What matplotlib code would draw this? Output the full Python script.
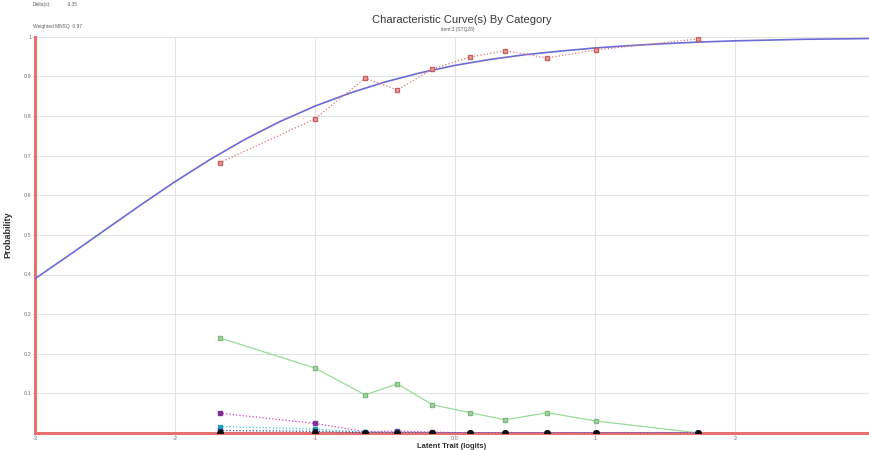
import matplotlib
matplotlib.use("Agg")
import matplotlib.pyplot as plt
import numpy as np

plt.rcParams["font.family"] = ["Liberation Sans", "DejaVu Sans"]

# model curve, every 0.25 logit
curve_x = [-3, -2.75, -2.5, -2.25, -2, -1.75, -1.5, -1.25, -1, -0.75, -0.5, -0.25, 0,
           0.25, 0.5, 0.75, 1, 1.25, 1.5, 1.75, 2, 2.25, 2.5, 2.75, 3]
curve_p = [0.389, 0.450, 0.512, 0.574, 0.634, 0.690, 0.741, 0.786, 0.825, 0.858, 0.886,
           0.909, 0.928, 0.943, 0.955, 0.964, 0.972, 0.978, 0.983, 0.987, 0.990, 0.992,
           0.994, 0.995, 0.996]

# observed groups
obs_x = [-1.68, -1.0, -0.64, -0.41, -0.16, 0.11, 0.36, 0.66, 1.01, 1.74]
cat_top = [0.682, 0.793, 0.896, 0.866, 0.919, 0.949, 0.965, 0.947, 0.967, 0.995]
cat_green = [0.240, 0.164, 0.096, 0.124, 0.071, 0.051, 0.033, 0.051, 0.030, 0.0]
cat_magenta = [0.050, 0.024, 0.003, 0.005, 0.002, 0.0, 0.0, 0.0, 0.0, 0.0]
cat_cyan = [0.016, 0.010, 0.002, 0.002, 0.001, 0.0, 0.0, 0.0, 0.0, 0.0]
cat_navy = [0.006, 0.004, 0.001, 0.001, 0.0, 0.0, 0.0, 0.0, 0.0, 0.0]
cat_zero = [0.0, 0.0, 0.0, 0.0, 0.0, 0.0, 0.0, 0.0, 0.0, 0.0]

x_ticks = [-3, -2, -1, 0, 1, 2]
x_labels = ["-3", "-2", "-1", "0.0", "1", "2"]
y_ticks = [0.1, 0.2, 0.3, 0.4, 0.5, 0.6, 0.7, 0.8, 0.9, 1.0]
y_labels = ["0.1", "0.2", "0.3", "0.4", "0.5", "0.6", "0.7", "0.8", "0.9", "1"]

fig = plt.figure(figsize=(8.7, 4.5), dpi=100)
ax = fig.add_axes([0.040, 0.038, 0.959, 0.880])

ax.plot(curve_x, curve_p, color="#6b6bd6", lw=1.2, zorder=4)
ax.plot(obs_x, cat_top, color="#e07878", lw=0.9, ls=":", marker="s", ms=3.5,
        mfc="#e8a0a0", mec="#c86060", zorder=5)
ax.plot(obs_x, cat_green, color="#98dc98", lw=0.9, ls="-", marker="s", ms=3,
        mfc="#a8d8a8", mec="#80b880", zorder=3)
ax.plot(obs_x, cat_magenta, color="#d040c0", lw=0.9, ls=":", marker="s", ms=3,
        mfc="#803090", mec="#803090", zorder=3)
ax.plot(obs_x, cat_cyan, color="#40c8e0", lw=0.9, ls=":", marker="s", ms=3.5,
        mfc="#20a0c0", mec="#20a0c0", zorder=3)
ax.plot(obs_x, cat_navy, color="#3050a0", lw=0.9, ls=":", marker="s", ms=3,
        mfc="#203060", mec="#203060", zorder=3)
ax.plot(obs_x, cat_zero, color="#c04060", lw=0.9, ls=":", marker="o", ms=4,
        mfc="#101010", mec="#101010", zorder=6)

ax.set_xlim(-3, 2.96)
ax.set_ylim(0, 1)
ax.set_xticks(x_ticks)
ax.set_xticklabels(x_labels)
ax.set_yticks(y_ticks)
ax.set_yticklabels(y_labels)
ax.tick_params(labelsize=4, colors="#707070", length=1.5, width=0.5, pad=1)
ax.grid(True, color="#e2e2e2", lw=0.7)
ax.set_axisbelow(True)

# thick red axes on the left and bottom
for s in ["top", "right"]:
    ax.spines[s].set_visible(False)
for s in ["left", "bottom"]:
    ax.spines[s].set_color("#e87070")
    ax.spines[s].set_linewidth(2.2)

ax.set_ylabel("Probability", fontsize=6.5, fontweight="bold", color="#303030")
ax.yaxis.set_label_coords(-0.027, 0.5)
ax.set_xlabel("Latent Trait (logits)", fontsize=5.5, fontweight="bold", color="#303030")
ax.xaxis.set_label_coords(0.5, -0.026)

fig.text(0.531, 0.955, "Characteristic Curve(s) By Category", ha="center", va="center",
         fontsize=8, color="#383838")
fig.text(0.526, 0.934, "item:3 (STQ28)", ha="center", va="center", fontsize=3.5, color="#606060")
fig.text(0.038, 0.990, "Delta(s):", ha="left", va="center", fontsize=3.5, color="#606060")
fig.text(0.077, 0.990, "-3.35", ha="left", va="center", fontsize=3.5, color="#606060")
fig.text(0.038, 0.942, "Weighted MNSQ  0.97", ha="left", va="center", fontsize=3.5, color="#606060")

plt.savefig("out.png", dpi=100)
